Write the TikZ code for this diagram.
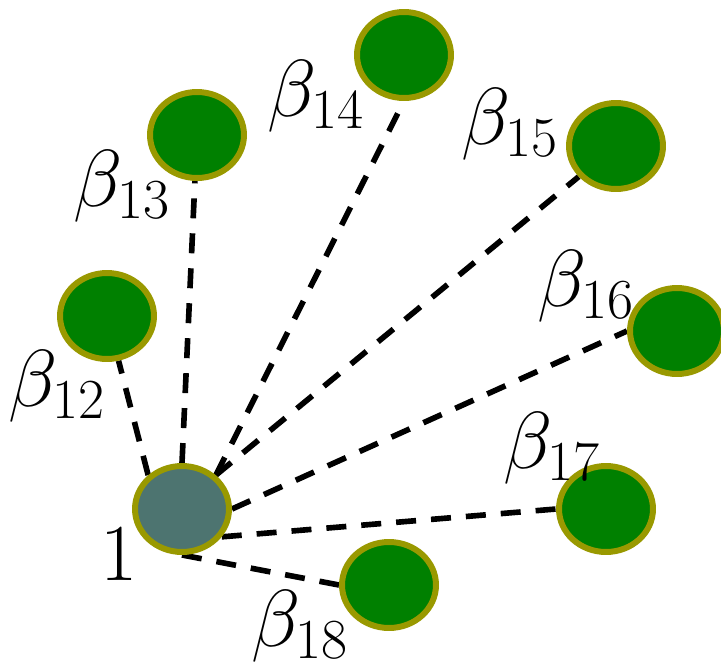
\RequirePackage{fix-cm}
\documentclass[tikz,border=0pt]{standalone}
\usepackage{amsmath, amssymb}
\usepackage{tikz}
\usetikzlibrary{shapes.geometric, backgrounds, calc}

\definecolor{leafgreen}{RGB}{0,128,0}
\definecolor{rimolive}{RGB}{153,153,0}
\definecolor{hubteal}{RGB}{77,116,112}

\begin{document}
\begin{tikzpicture}[x=0.02cm, y=-0.02cm,
    peer/.style={ellipse, draw=rimolive, line width=3.4pt, fill=leafgreen,
      minimum width=1.88cm, minimum height=1.72cm, inner sep=0pt},
    hub/.style={peer, fill=hubteal},
    link/.style={black, line width=3.2pt, dash pattern=on 0.4cm off 0.3cm},
    lbl/.style={font=\fontsize{46}{54}\selectfont, inner sep=0pt}]
      \useasboundingbox (0,0) rectangle (721,667);

      % node 1 and its neighbours
      \node[hub] (p1) at (182,509) {};
      \foreach \k/\x/\y in {2/107/316, 3/197/135, 4/404/55, 5/616/146,
                            6/677/331, 7/606/509, 8/389/585} {
        \node[peer] (p\k) at (\x,\y) {};
      }

      % weights
      \node[lbl] (one) at (119,554) {$1$};
      \node[lbl] (b12) at (57,386) {$\beta_{12}$};
      \node[lbl] (b13) at (122,186) {$\beta_{13}$};
      \node[lbl] (b14) at (316,96) {$\beta_{14}$};
      \node[lbl] (b15) at (510,124) {$\beta_{15}$};
      \node[lbl] (b16) at (586,286) {$\beta_{16}$};
      \node[lbl] (b17) at (552,448) {$\beta_{17}$};
      \node[lbl] (b18) at (300,626) {$\beta_{18}$};

      % dashed links, behind the nodes
      \begin{pgfonlayer}{background}
        \draw[link] (p1.135) -- (p2);
        \draw[link] (p1.north) -- (p3);
        \draw[link] (p1.45) -- (p4.south);
        \draw[link] (p1.45) -- (p5);
        \draw[link] (p1.east) -- (p6.west);
        \draw[link] (p1.-35) -- (p7.west);
        \draw[link] (p1.south) -- (p8.west);
      \end{pgfonlayer}

    \end{tikzpicture}
\end{document}
